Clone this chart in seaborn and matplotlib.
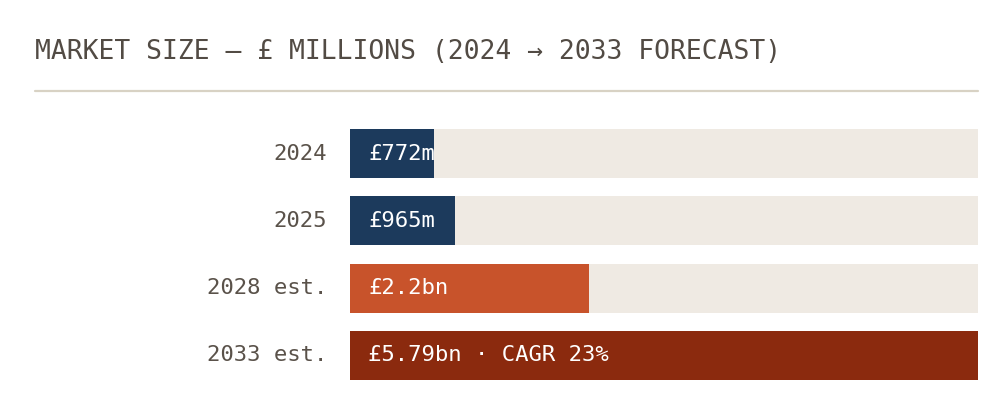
import matplotlib
matplotlib.use("Agg")
import matplotlib.pyplot as plt
import seaborn as sns
import pandas as pd

# ---- data ----
categories = ["2024", "2025", "2028 est.", "2033 est."]
values = [772, 965, 2200, 5790]          # £ millions
value_labels = ["£772m", "£965m", "£2.2bn", "£5.79bn · CAGR 23%"]
bar_colors = ["#1c3a5c", "#1c3a5c", "#c8532b", "#8b2a0e"]
title = "MARKET SIZE — £ MILLIONS (2024 → 2033 FORECAST)"

track_color = "#efeae3"
text_color = "#5a524a"
mono = ["DejaVu Sans Mono", "Liberation Mono"]

sns.set_theme(style="white")
plt.rcParams["font.family"] = mono

W, H = 999, 413
fig = plt.figure(figsize=(W / 100, H / 100), dpi=100)
fig.patch.set_facecolor("white")

# title and rule
fig.text(35 / W, 1 - 52 / H, title, ha="left", va="center",
         fontsize=19, color="#524b44", family=mono)
fig.add_artist(plt.Line2D([35 / W, 978 / W], [1 - 91 / H, 1 - 91 / H],
                          color="#d8d2c4", linewidth=1.6))

# bar axes
left, right = 350 / W, 978 / W
bottom, top = 1 - 380 / H, 1 - 129 / H
ax = fig.add_axes([left, bottom, right - left, top - bottom])

df = pd.DataFrame({"cat": categories, "val": values})
vmax = max(values)
df_track = pd.DataFrame({"cat": categories, "val": [vmax] * len(values)})

bw = 0.728
sns.barplot(data=df_track, x="val", y="cat", color=track_color, width=bw,
            ax=ax, saturation=1, edgecolor="none", linewidth=0)
sns.barplot(data=df, x="val", y="cat", hue="cat", palette=bar_colors,
            width=bw, dodge=False, ax=ax, saturation=1, legend=False,
            edgecolor="none", linewidth=0)

ax.set_xlim(0, vmax)
ax.set_ylim(len(categories) - 1 + bw / 2, -bw / 2)
ax.set_xlabel("")
ax.set_ylabel("")
ax.set_xticks([])
ax.tick_params(axis="y", length=0, pad=16.5, labelsize=16, labelcolor=text_color)
for lbl in ax.get_yticklabels():
    lbl.set_family(mono)
    lbl.set_va("center")
for s in ax.spines.values():
    s.set_visible(False)
ax.set_facecolor("none")

for i, lab in enumerate(value_labels):
    ax.text(vmax * (18 / 628), i, lab, ha="left", va="center",
            fontsize=16, color="white", family=mono)

fig.savefig("out.png", dpi=100, facecolor="white")
